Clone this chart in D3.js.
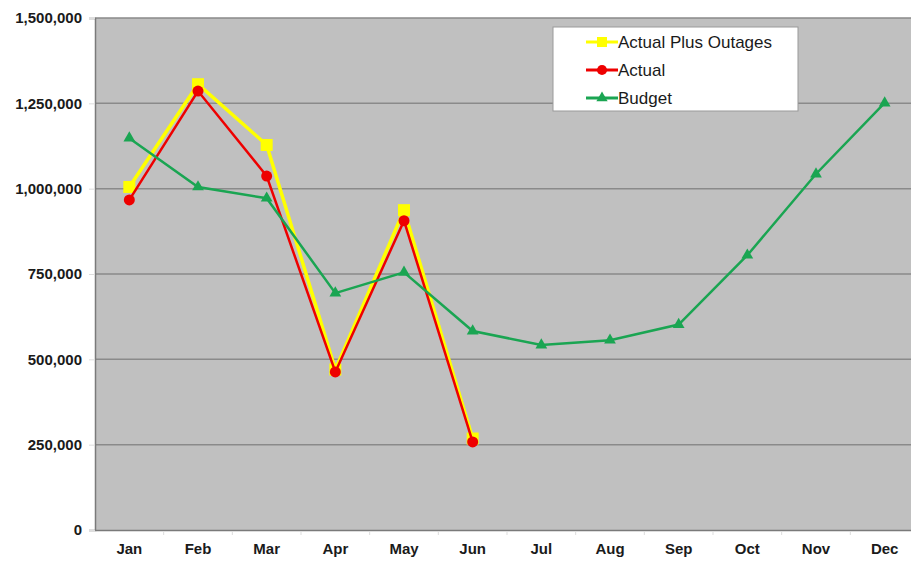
<!DOCTYPE html>
<html>
<head>
<meta charset="utf-8">
<script src="https://cdn.jsdelivr.net/npm/d3@7/dist/d3.min.js"></script>
<style>
  body { margin: 0; background: #fff; }
  svg { display: block; font-family: "Liberation Sans", Arial, sans-serif; }
  .tick text { font-weight: bold; font-size: 15px; fill: #1a1a1a; }
</style>
</head>
<body>
<svg width="911" height="562"></svg>
<script>
var months = ["Jan","Feb","Mar","Apr","May","Jun","Jul","Aug","Sep","Oct","Nov","Dec"];
var plusOutages = [1005000, 1306000, 1128000, 470000, 937000, 268000];
var actual = [967000, 1286000, 1037000, 463000, 906000, 258000];
var budget = [1148000, 1005000, 972000, 694000, 755000, 583000, 542000, 556000, 602000, 805000, 1043000, 1251000];
var yTicks = [0, 250000, 500000, 750000, 1000000, 1250000, 1500000];

var svg = d3.select("svg");
var plotLeft = 95, plotTop = 18, plotBottom = 530, plotRight = 919;

var x = d3.scaleBand().domain(months).range([plotLeft, plotRight]);
var y = d3.scaleLinear().domain([0, 1500000]).range([plotBottom, plotTop]);

// plot area
svg.append("rect")
    .attr("x", plotLeft).attr("y", plotTop)
    .attr("width", plotRight - plotLeft).attr("height", plotBottom - plotTop)
    .attr("fill", "#c0c0c0");

// gridlines
svg.append("g").selectAll("line")
    .data(yTicks.slice(1))
    .enter().append("line")
    .attr("x1", plotLeft).attr("x2", plotRight)
    .attr("y1", function(d) { return y(d); })
    .attr("y2", function(d) { return y(d); })
    .attr("stroke", "#8a8a8a")
    .attr("stroke-width", 1.5);

// axes
var yAxis = svg.append("g")
    .attr("transform", "translate(" + plotLeft + ",0)")
    .call(d3.axisLeft(y).tickValues(yTicks).tickSize(6).tickPadding(7)
        .tickFormat(d3.format(",")));
yAxis.select(".domain").attr("stroke", "#7a7a7a").attr("stroke-width", 1.5);
yAxis.selectAll(".tick line").attr("stroke", "#ddd");

var xAxis = svg.append("g")
    .attr("transform", "translate(0," + plotBottom + ")")
    .call(d3.axisBottom(x).tickSize(0).tickPadding(13));
xAxis.select(".domain").attr("stroke", "#7a7a7a").attr("stroke-width", 1.5);

// small ticks between categories
svg.append("g").selectAll("line")
    .data(months.slice(1))
    .enter().append("line")
    .attr("x1", function(d) { return x(d); })
    .attr("x2", function(d) { return x(d); })
    .attr("y1", plotBottom + 1).attr("y2", plotBottom + 5)
    .attr("stroke", "#ddd");

var cx = function(d, i) { return x(months[i]) + x.bandwidth() / 2; };
var line = d3.line().x(cx).y(function(d) { return y(d); });

// Actual Plus Outages
svg.append("path").datum(plusOutages)
    .attr("d", line).attr("fill", "none")
    .attr("stroke", "#ffff00").attr("stroke-width", 3.5);
svg.append("g").selectAll("rect")
    .data(plusOutages)
    .enter().append("rect")
    .attr("x", function(d, i) { return cx(d, i) - 6; })
    .attr("y", function(d) { return y(d) - 6; })
    .attr("width", 12).attr("height", 12)
    .attr("fill", "#ffff00");

// Actual
svg.append("path").datum(actual)
    .attr("d", line).attr("fill", "none")
    .attr("stroke", "#ee0000").attr("stroke-width", 2.5);
svg.append("g").selectAll("circle")
    .data(actual)
    .enter().append("circle")
    .attr("cx", cx)
    .attr("cy", function(d) { return y(d); })
    .attr("r", 5.5)
    .attr("fill", "#ee0000");

// Budget
var tri = d3.symbol().type(d3.symbolTriangle).size(60);
svg.append("path").datum(budget)
    .attr("d", line).attr("fill", "none")
    .attr("stroke", "#1aa552").attr("stroke-width", 2.5);
svg.append("g").selectAll("path")
    .data(budget)
    .enter().append("path")
    .attr("d", tri)
    .attr("transform", function(d, i) { return "translate(" + cx(d, i) + "," + y(d) + ")"; })
    .attr("fill", "#1aa552");

// legend
var legend = svg.append("g").attr("transform", "translate(553,27)");
legend.append("rect")
    .attr("width", 245).attr("height", 84)
    .attr("fill", "#fff").attr("stroke", "#999").attr("stroke-width", 1);

var legendItems = [
    { name: "Actual Plus Outages", color: "#ffff00", shape: "square" },
    { name: "Actual", color: "#ee0000", shape: "circle" },
    { name: "Budget", color: "#1aa552", shape: "triangle" }
];
var item = legend.selectAll(".item")
    .data(legendItems)
    .enter().append("g")
    .attr("transform", function(d, i) { return "translate(0," + (15 + i * 28) + ")"; });
item.append("line")
    .attr("x1", 33).attr("x2", 65)
    .attr("stroke", function(d) { return d.color; })
    .attr("stroke-width", 3);
item.append("path")
    .attr("d", function(d) {
        if (d.shape == "square") return d3.symbol().type(d3.symbolSquare).size(100)();
        if (d.shape == "circle") return d3.symbol().type(d3.symbolCircle).size(80)();
        return d3.symbol().type(d3.symbolTriangle).size(55)();
    })
    .attr("transform", "translate(49,0)")
    .attr("fill", function(d) { return d.color; });
item.append("text")
    .attr("x", 65).attr("y", 6)
    .attr("font-size", 17)
    .attr("fill", "#1a1a1a")
    .text(function(d) { return d.name; });
</script>
</body>
</html>
